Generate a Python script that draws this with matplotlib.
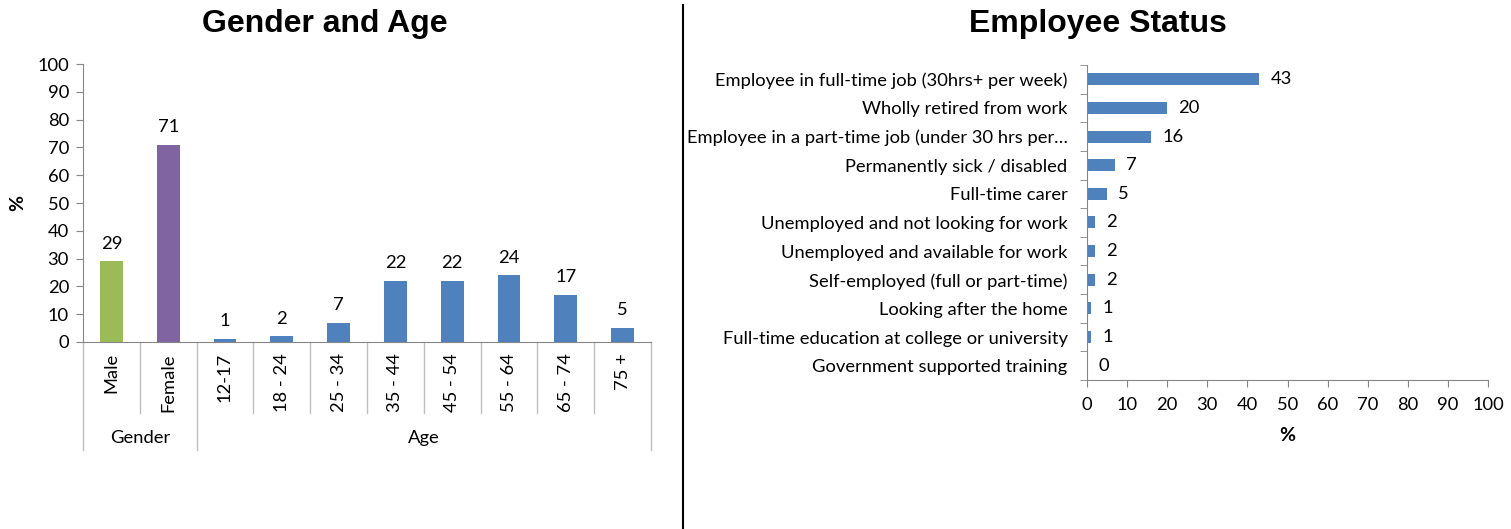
import numpy as np
import matplotlib.pyplot as plt
from matplotlib.lines import Line2D
from matplotlib.transforms import blended_transform_factory

plt.rcParams['font.family'] = ['Lato', 'DejaVu Sans']

# gender and age breakdown (%)
gender_labels = ['Male', 'Female']
gender_values = [29, 71]
age_labels = ['12-17', '18 - 24', '25 - 34', '35 - 44', '45 - 54', '55 - 64', '65 - 74', '75 +']
age_values = [1, 2, 7, 22, 22, 24, 17, 5]

# employee status (%)
status_labels = [
    'Employee in full-time job (30hrs+ per week)',
    'Wholly retired from work',
    'Employee in a part-time job (under 30 hrs per\u2026',
    'Permanently sick / disabled',
    'Full-time carer',
    'Unemployed and not looking for work',
    'Unemployed and available for work',
    'Self-employed (full or part-time)',
    'Looking after the home',
    'Full-time education at college or university',
    'Government supported training',
]
status_values = [43, 20, 16, 7, 5, 2, 2, 2, 1, 1, 0]

green = '#9BBB59'
purple = '#8064A2'
blue = '#4F81BD'
axis_grey = '#868686'
fs = 13.2

fig = plt.figure(figsize=(15.11, 5.29), dpi=100)

# ---- left: gender and age ----
ax1 = fig.add_axes([0.0549, 0.3535, 0.3759, 0.5255])
cats = gender_labels + age_labels
vals = gender_values + age_values
colors = [green, purple] + [blue] * len(age_values)
x = np.arange(len(cats))
bars = ax1.bar(x, vals, width=0.4, color=colors)
for b, v in zip(bars, vals):
    ax1.annotate(str(v), (b.get_x() + b.get_width() / 2, v), xytext=(0, 7),
                 textcoords='offset points', ha='center', va='bottom', fontsize=fs)

ax1.set_xlim(-0.5, len(cats) - 0.5)
ax1.set_ylim(0, 100)
ax1.set_yticks(range(0, 101, 10))
ax1.set_xticks(x)
ax1.set_xticklabels(cats, rotation=90, fontsize=fs)
ax1.tick_params(axis='x', length=0, pad=8)
ax1.tick_params(axis='y', length=5, color=axis_grey, labelsize=fs, pad=5)
for s in ['top', 'right']:
    ax1.spines[s].set_visible(False)
for s in ['left', 'bottom']:
    ax1.spines[s].set_color(axis_grey)
ax1.set_ylabel('%', fontsize=14, fontweight='bold', labelpad=8)

# category separators and group labels below the axis
tr = blended_transform_factory(ax1.transData, ax1.transAxes)
n_gender = len(gender_labels)
for b in np.arange(len(cats) + 1) - 0.5:
    group_edge = b in (-0.5, n_gender - 0.5, len(cats) - 0.5)
    ax1.plot([b, b], [0, -0.39 if group_edge else -0.255], transform=tr,
             color='#BFBFBF', lw=1, clip_on=False)
ax1.text((n_gender - 1) / 2, -0.345, 'Gender', transform=tr, ha='center', va='center', fontsize=fs)
ax1.text(n_gender + (len(age_labels) - 1) / 2, -0.345, 'Age', transform=tr,
         ha='center', va='center', fontsize=fs)

# ---- right: employee status ----
ax2 = fig.add_axes([0.7194, 0.2817, 0.2654, 0.5955])
y = np.arange(len(status_labels))
hbars = ax2.barh(y, status_values, height=0.42, color=blue)
for b, v in zip(hbars, status_values):
    ax2.annotate(str(v), (v, b.get_y() + b.get_height() / 2), xytext=(8, 0),
                 textcoords='offset points', ha='left', va='center', fontsize=fs)
ax2.set_ylim(len(status_labels) - 0.5, -0.5)
ax2.set_xlim(0, 100)
ax2.set_xticks(range(0, 101, 10))
ax2.set_yticks(y)
ax2.set_yticklabels(status_labels, fontsize=fs)
ax2.set_yticks(np.arange(len(status_labels) + 1) - 0.5, minor=True)
ax2.tick_params(axis='y', which='major', length=0, pad=14)
ax2.tick_params(axis='y', which='minor', length=5, color=axis_grey)
ax2.tick_params(axis='x', length=5, color=axis_grey, labelsize=fs, pad=7)
for s in ['top', 'right']:
    ax2.spines[s].set_visible(False)
for s in ['left', 'bottom']:
    ax2.spines[s].set_color(axis_grey)
ax2.set_xlabel('%', fontsize=14, fontweight='bold', labelpad=10)

# titles and divider
fig.text(0.215, 0.955, 'Gender and Age', ha='center', va='center',
         fontsize=23, fontweight='bold', family='Liberation Sans')
fig.text(0.7267, 0.955, 'Employee Status', ha='center', va='center',
         fontsize=23, fontweight='bold', family='Liberation Sans')
fig.add_artist(Line2D([0.452, 0.452], [0, 0.99], color='black', lw=1.5))

fig.savefig('out.png', dpi=100)
